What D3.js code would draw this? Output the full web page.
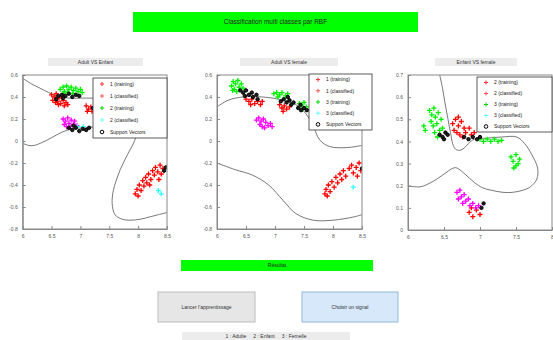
<!DOCTYPE html>
<html>
<head>
<meta charset="utf-8">
<script src="https://cdn.jsdelivr.net/npm/d3@7/dist/d3.min.js"></script>
<style>
  body { margin: 0; background: #fff; }
  svg { display: block; font-family: "Liberation Sans", Arial, sans-serif; }
</style>
</head>
<body>
<svg id="fig" width="553" height="340"></svg>
<script>
// ---- data ----
const figTitle = "Classification multi classes par RBF";
const panelTitles = ["Adult VS Enfant", "Adult VS female", "Enfant VS female"];
const legend1 = ["1 (training)", "1 (classified)", "2 (training)", "2 (classified)", "Support Vectors"];
const legend2 = ["1 (training)", "1 (classified)", "3 (training)", "3 (classified)", "Support Vectors"];
const legend3 = ["2 (training)", "2 (classified)", "3 (training)", "3 (classified)", "Support Vectors"];
const xTicksA = [6, 6.5, 7, 7.5, 8, 8.5];
const yTicksA = [0.6, 0.4, 0.2, 0, -0.2, -0.4, -0.6, -0.8];
const xTicksC = [6, 6.5, 7, 7.5, 8];
const yTicksC = [0.7, 0.6, 0.5, 0.4, 0.3, 0.2, 0.1, 0];
const resultLabel = "Résultat";
const buttonLabels = ["Lancer l'apprentissage", "Choisir un signal"];
const classKey = "1 : Adulte     2 : Enfant     3 : Femelle";

// panel 1 : Adult VS Enfant
const p1Red = [[6.50,0.42],[6.55,0.40],[6.58,0.43],[6.52,0.37],[6.60,0.36],[6.63,0.39],[6.66,0.34],[6.70,0.37],
  [6.72,0.32],[6.62,0.33],[6.57,0.35],[6.68,0.40],[6.75,0.35],[6.78,0.33],
  [7.10,0.32],[7.14,0.29],[7.18,0.31],[7.20,0.27],[7.12,0.27],
  [7.95,-0.48],[7.98,-0.44],[8.02,-0.40],[8.05,-0.45],[8.08,-0.36],[8.10,-0.41],[8.13,-0.33],[8.15,-0.38],
  [8.18,-0.30],[8.22,-0.35],[8.25,-0.27],[8.28,-0.31],[8.30,-0.24],[8.34,-0.28],[8.38,-0.22],[8.40,-0.30],
  [8.43,-0.25],[8.36,-0.35],[8.00,-0.50],[8.20,-0.40]];
const p1Green = [[6.65,0.47],[6.70,0.49],[6.72,0.45],[6.76,0.50],[6.80,0.47],[6.84,0.49],[6.88,0.46],[6.92,0.48],
  [6.96,0.45],[7.00,0.47],[6.78,0.44],[6.86,0.43],[6.70,0.43],[7.03,0.44]];
const p1Magenta = [[6.70,0.20],[6.74,0.18],[6.78,0.21],[6.72,0.15],[6.80,0.16],[6.84,0.19],[6.88,0.15],[6.76,0.13],
  [6.90,0.18],[6.82,0.13],[6.94,0.14]];
const p1Cyan = [[6.95,0.13],[7.05,0.13],[8.35,-0.45],[8.40,-0.48]];
const p1Sv = [[6.68,0.42],[6.74,0.41],[6.80,0.43],[6.86,0.40],[6.92,0.42],[6.98,0.41],[6.62,0.41],[6.58,0.38],[6.70,0.39],
  [6.80,0.12],[6.86,0.10],[6.92,0.12],[6.98,0.09],[7.04,0.11],[7.10,0.10],[7.15,0.12],[6.88,0.14],
  [8.48,-0.24],[8.45,-0.27],[7.22,0.30]];
const p1Bound = [
  [[6.0,0.57],[6.15,0.52],[6.3,0.48],[6.45,0.44],[6.6,0.41],[6.8,0.39],[7.0,0.39],[7.2,0.39],[7.3,0.39]],
  [[6.0,-0.02],[6.1,-0.04],[6.2,-0.04],[6.35,-0.01],[6.5,0.03],[6.68,0.08],[6.85,0.11],[7.05,0.12],[7.3,0.13]],
  [[7.98,0.06],[7.92,-0.02],[7.86,-0.08],[7.77,-0.17],[7.69,-0.26],[7.62,-0.36],[7.57,-0.45],[7.55,-0.57],
   [7.6,-0.67],[7.72,-0.71],[7.86,-0.72],[8.05,-0.71],[8.2,-0.69],[8.35,-0.67],[8.5,-0.65]]
];

// panel 2 : Adult VS female
const p2Red = [[6.50,0.38],[6.55,0.36],[6.60,0.38],[6.65,0.34],[6.70,0.36],[6.75,0.33],[6.58,0.33],[6.78,0.36],
  [7.08,0.33],[7.12,0.30],[7.16,0.32],[7.20,0.29],[7.25,0.31],[7.14,0.27],
  [7.86,-0.48],[7.88,-0.44],[7.92,-0.40],[7.95,-0.46],[7.98,-0.37],[8.02,-0.42],[8.05,-0.33],[8.08,-0.38],
  [8.12,-0.30],[8.15,-0.35],[8.18,-0.27],[8.22,-0.32],[8.28,-0.25],[8.32,-0.22],[8.35,-0.29],[8.40,-0.24],
  [8.45,-0.20],[8.48,-0.27],[8.42,-0.32],[7.90,-0.50]];
const p2Green = [[6.25,0.50],[6.28,0.54],[6.32,0.52],[6.30,0.47],[6.36,0.55],[6.38,0.49],[6.42,0.52],[6.34,0.45],
  [6.45,0.48],[6.27,0.46],
  [6.98,0.43],[7.03,0.44],[7.08,0.42],[7.12,0.44],[7.18,0.41],[7.22,0.43],[7.05,0.40],
  [7.42,0.34],[7.46,0.32],[7.50,0.35],[7.54,0.31],[7.48,0.29]];
const p2Magenta = [[6.68,0.19],[6.72,0.21],[6.76,0.18],[6.80,0.20],[6.74,0.15],[6.84,0.17],[6.88,0.14],[6.92,0.16],
  [6.82,0.12],[6.95,0.13],[6.78,0.13]];
const p2Cyan = [[8.35,-0.42]];
const p2Sv = [[6.40,0.46],[6.45,0.44],[6.50,0.46],[6.55,0.42],[6.60,0.44],[6.48,0.41],[6.62,0.40],[6.68,0.42],[6.70,0.38],
  [7.10,0.36],[7.15,0.38],[7.20,0.35],[7.25,0.37],[7.28,0.33],[7.32,0.35],[7.22,0.40],
  [7.40,0.30],[7.45,0.28],[7.50,0.30],[7.55,0.28],[7.44,0.33],[8.50,-0.25]];
const p2Bound = [
  [[6.0,0.31],[6.19,0.37],[6.44,0.40],[6.79,0.40],[7.14,0.37],[7.42,0.31],[7.63,0.17],[7.77,0.01],[7.94,-0.05],
   [8.24,-0.06],[8.5,-0.04]],
  [[6.0,-0.2],[6.31,-0.26],[6.61,-0.31],[6.89,-0.4],[7.14,-0.54],[7.36,-0.66],[7.66,-0.72],[8.0,-0.72],
   [8.36,-0.69],[8.5,-0.67]]
];

// panel 3 : Enfant VS female
const p3Red = [[6.62,0.48],[6.66,0.50],[6.70,0.47],[6.74,0.49],[6.78,0.46],[6.68,0.44],[6.72,0.43],[6.80,0.44],
  [6.85,0.46],[6.88,0.43],[6.92,0.44],[6.76,0.42],[6.64,0.45],[6.70,0.51],
  [6.85,0.08],[6.90,0.06],[6.95,0.09],[7.00,0.07],[6.88,0.10]];
const p3Green = [[6.30,0.54],[6.33,0.52],[6.36,0.55],[6.32,0.49],[6.38,0.51],[6.35,0.47],[6.40,0.48],[6.42,0.53],
  [6.37,0.44],[6.44,0.45],[6.46,0.50],[6.41,0.42],[6.48,0.46],[6.22,0.47],[6.24,0.45],
  [7.00,0.41],[7.05,0.40],[7.10,0.41],[7.15,0.40],[7.20,0.41],[7.25,0.40],[7.30,0.405],
  [7.43,0.33],[7.46,0.31],[7.50,0.34],[7.53,0.30],[7.47,0.28],[7.55,0.32],[7.50,0.29]];
const p3Magenta = [[6.68,0.17],[6.72,0.18],[6.74,0.15],[6.78,0.16],[6.80,0.13],[6.84,0.14],[6.86,0.11],[6.90,0.12],
  [6.94,0.10],[6.98,0.11],[6.76,0.12],[6.70,0.14]];
const p3Cyan = [];
const p3Sv = [[6.44,0.43],[6.48,0.42],[6.52,0.44],[6.50,0.41],[6.55,0.43],[6.78,0.42],[6.84,0.41],[6.90,0.42],
  [6.96,0.41],[7.0,0.42],[7.05,0.12],[7.02,0.10]];
const p3Bound = [
  [[6.44,0.70],[6.48,0.64],[6.51,0.58],[6.55,0.51],[6.59,0.44],[6.62,0.39],[6.66,0.365],[6.72,0.36],[6.78,0.37],
   [6.84,0.39],[6.92,0.41],[7.1,0.415],[7.3,0.42],[7.51,0.42],[7.62,0.39],[7.72,0.34],[7.80,0.28],[7.79,0.23],
   [7.70,0.195],[7.6,0.18],[7.45,0.17],[7.32,0.17],[7.15,0.18],[7.04,0.19],[6.92,0.215],[6.80,0.25],[6.68,0.28],
   [6.63,0.28],[6.49,0.25],[6.35,0.22],[6.17,0.195],[6.0,0.2]]
];

// ---- layout ----
const svg = d3.select("#fig");
const font = "Liberation Sans, Arial, sans-serif";

const panels = [
  { title: panelTitles[0], titleBox: [48, 58, 95, 8], box: [22.7, 167, 75, 229],
    xDom: [6, 8.5], yDom: [-0.8, 0.6], xTicks: xTicksA, yTicks: yTicksA, legend: legend1,
    legendBox: [93, 78, 74, 60], red: p1Red, green: p1Green, magenta: p1Magenta, cyan: p1Cyan, sv: p1Sv, bound: p1Bound },
  { title: panelTitles[1], titleBox: [240, 58, 98, 8], box: [217, 362, 75, 229],
    xDom: [6, 8.5], yDom: [-0.8, 0.6], xTicks: xTicksA, yTicks: yTicksA, legend: legend2,
    legendBox: [309, 74, 63, 56], red: p2Red, green: p2Green, magenta: p2Magenta, cyan: p2Cyan, sv: p2Sv, bound: p2Bound },
  { title: panelTitles[2], titleBox: [435, 58, 82, 8], box: [408, 552, 75, 230],
    xDom: [6, 8], yDom: [0, 0.7], xTicks: xTicksC, yTicks: yTicksC, legend: legend3,
    legendBox: [477, 77, 75, 55], red: p3Red, green: p3Green, magenta: p3Magenta, cyan: p3Cyan, sv: p3Sv, bound: p3Bound }
];

// header bar
svg.append("rect").attr("x", 133).attr("y", 12).attr("width", 285).attr("height", 20).attr("fill", "#00ff00");
svg.append("text").attr("x", 275.5).attr("y", 22).attr("dy", "0.35em").attr("text-anchor", "middle")
  .attr("font-size", 6.5).attr("fill", "#222").text(figTitle);

const plus = (g, pts, x, y, color) => g.append("g").selectAll("path").data(pts).join("path")
  .attr("d", d => `M${x(d[0]) - 2.5},${y(d[1])}h5M${x(d[0])},${y(d[1]) - 2.5}v5`)
  .attr("stroke", color).attr("stroke-width", 1.3);

panels.forEach(p => {
  const [x0, x1, y0, y1] = p.box;
  const x = d3.scaleLinear().domain(p.xDom).range([x0, x1]);
  const y = d3.scaleLinear().domain(p.yDom).range([y1, y0]);

  // title panel
  svg.append("rect").attr("x", p.titleBox[0]).attr("y", p.titleBox[1]).attr("width", p.titleBox[2])
    .attr("height", p.titleBox[3]).attr("fill", "#ececec");
  svg.append("text").attr("x", p.titleBox[0] + p.titleBox[2] / 2).attr("y", p.titleBox[1] + p.titleBox[3] / 2)
    .attr("dy", "0.35em").attr("text-anchor", "middle").attr("font-size", 5).attr("fill", "#333").text(p.title);

  const g = svg.append("g");
  g.append("defs").append("clipPath").attr("id", "clip" + x0)
    .append("rect").attr("x", x0).attr("y", y0).attr("width", x1 - x0).attr("height", y1 - y0);
  const plot = g.append("g").attr("clip-path", `url(#clip${x0})`);

  // decision boundaries
  plot.selectAll("path.b").data(p.bound).join("path").attr("class", "b")
    .attr("d", d3.line().x(d => x(d[0])).y(d => y(d[1])).curve(d3.curveCatmullRom))
    .attr("fill", "none").attr("stroke", "#555").attr("stroke-width", 0.8);

  plus(plot, p.green, x, y, "#00ee00");
  plus(plot, p.red, x, y, "#ff0000");
  plus(plot, p.magenta, x, y, "#ff00ff");
  plus(plot, p.cyan, x, y, "#33ffff");
  plot.append("g").selectAll("circle").data(p.sv).join("circle")
    .attr("cx", d => x(d[0])).attr("cy", d => y(d[1])).attr("r", 1.7)
    .attr("fill", "#222").attr("stroke", "#000").attr("stroke-width", 1);

  // axes, MATLAB style box with inward ticks
  const axColor = "#888";
  const xa = g.append("g").attr("transform", `translate(0,${y1})`)
    .call(d3.axisBottom(x).tickValues(p.xTicks).tickSizeInner(-3).tickSizeOuter(0).tickPadding(5).tickFormat(d => String(d)));
  const ya = g.append("g").attr("transform", `translate(${x0},0)`)
    .call(d3.axisLeft(y).tickValues(p.yTicks).tickSizeInner(-3).tickSizeOuter(0).tickPadding(5).tickFormat(d => String(d)));
  [xa, ya].forEach(a => {
    a.selectAll("path, line").attr("stroke", axColor);
    a.selectAll("text").attr("font-size", 5).attr("fill", "#555").attr("font-family", font);
  });
  g.append("rect").attr("x", x0).attr("y", y0).attr("width", x1 - x0).attr("height", y1 - y0)
    .attr("fill", "none").attr("stroke", axColor).attr("stroke-width", 1);

  // legend
  const [lx, ly, lw, lh] = p.legendBox;
  const lg = svg.append("g");
  lg.append("rect").attr("x", lx).attr("y", ly).attr("width", lw).attr("height", lh)
    .attr("fill", "#fff").attr("stroke", "#333").attr("stroke-width", 0.8);
  const legColors = ["#ff3030", "#ff5050", "#00dd00", "#66ffff", "#000"];
  const row = lh / 5;
  p.legend.forEach((label, i) => {
    const cy = ly + row * (i + 0.5), cx = lx + 9;
    if (i < 4) {
      lg.append("path").attr("d", `M${cx - 2},${cy}h4M${cx},${cy - 2}v4`).attr("stroke", legColors[i]).attr("stroke-width", 1);
    } else {
      lg.append("circle").attr("cx", cx).attr("cy", cy).attr("r", 1.8).attr("fill", "none").attr("stroke", "#000");
    }
    lg.append("text").attr("x", lx + 17).attr("y", cy).attr("dy", "0.35em").attr("font-size", 5)
      .attr("fill", "#222").text(label);
  });
});

// result bar
svg.append("rect").attr("x", 181).attr("y", 260).attr("width", 192).attr("height", 11).attr("fill", "#00ff00");
svg.append("text").attr("x", 277).attr("y", 265.5).attr("dy", "0.35em").attr("text-anchor", "middle")
  .attr("font-size", 5).attr("fill", "#222").text(resultLabel);

// buttons
const buttons = [
  { x: 158, w: 97, fill: "#e6e6e6", stroke: "#bdbdbd", label: buttonLabels[0] },
  { x: 302, w: 96, fill: "#d6e8fa", stroke: "#8fb7dc", label: buttonLabels[1] }
];
buttons.forEach(b => {
  svg.append("rect").attr("x", b.x).attr("y", 292).attr("width", b.w).attr("height", 30)
    .attr("fill", b.fill).attr("stroke", b.stroke).attr("stroke-width", 1);
  svg.append("text").attr("x", b.x + b.w / 2).attr("y", 307).attr("dy", "0.35em").attr("text-anchor", "middle")
    .attr("font-size", 5).attr("fill", "#333").text(b.label);
});

// class key strip
svg.append("rect").attr("x", 182).attr("y", 332).attr("width", 168).attr("height", 8).attr("fill", "#ececec");
svg.append("text").attr("x", 266).attr("y", 336).attr("dy", "0.35em").attr("text-anchor", "middle")
  .attr("font-size", 5).attr("fill", "#333").attr("xml:space", "preserve").text(classKey);
</script>
</body>
</html>
